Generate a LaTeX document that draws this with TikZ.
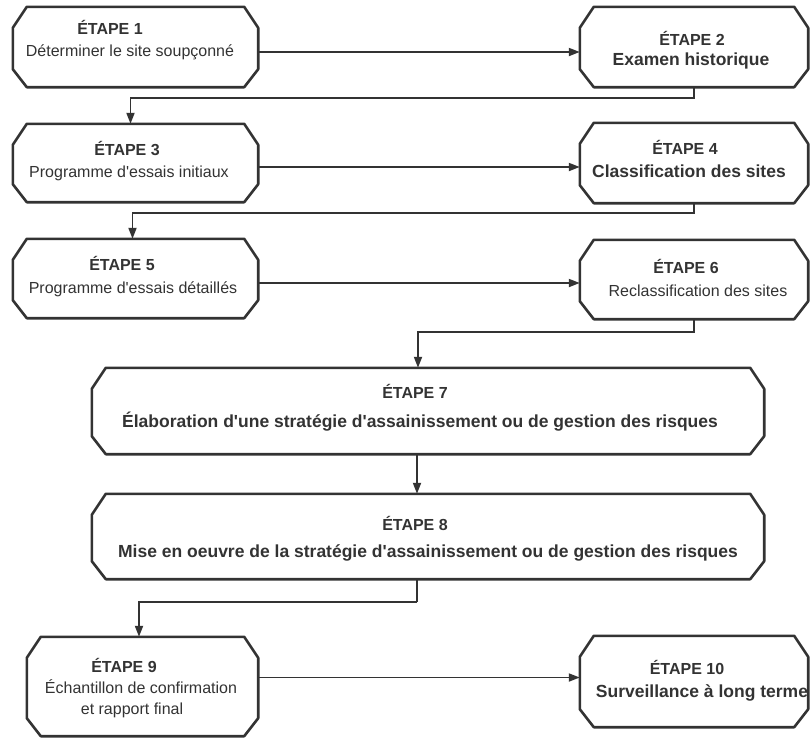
\documentclass[tikz,border=0pt]{standalone}
\usepackage{fontspec}
\setmainfont{Liberation Sans}[Ligatures=TeXOff]
\usetikzlibrary{arrows.meta,calc}
\definecolor{ink}{HTML}{333333}
\begin{document}
\begin{tikzpicture}[x=1pt,y=-1pt,
  boxnode/.style={draw=none, inner sep=0pt},
  outline/.style={draw=ink, line width=2.6pt, line join=round},
  arr/.style={draw=ink, line width=1.8pt, -{Triangle[length=11pt,width=8pt]}},
  hdr/.style={anchor=base, inner sep=0pt, text=ink, font=\bfseries\fontsize{16}{18}\selectfont},
  reg/.style={anchor=base, inner sep=0pt, text=ink, font=\fontsize{16}{18}\selectfont},
  bld/.style={anchor=base, inner sep=0pt, text=ink, font=\bfseries\fontsize{17.5}{20}\selectfont}]
\fill[white] (0,0) rectangle (811,737);
\useasboundingbox (0,0) rectangle (811,737);

% boxes
\node[boxnode, minimum width=245pt, minimum height=80pt] (b1) at (135.5,47) {};
\node[boxnode, minimum width=228pt, minimum height=80pt] (b2) at (694,47) {};
\node[boxnode, minimum width=245pt, minimum height=78pt] (b3) at (135.5,163) {};
\node[boxnode, minimum width=228pt, minimum height=80pt] (b4) at (694,163) {};
\node[boxnode, minimum width=245pt, minimum height=79pt] (b5) at (135.5,278.5) {};
\node[boxnode, minimum width=228pt, minimum height=79pt] (b6) at (694,279.5) {};
\node[boxnode, minimum width=672pt, minimum height=86pt] (b7) at (428,411) {};
\node[boxnode, minimum width=672pt, minimum height=85pt] (b8) at (428,536.5) {};
\node[boxnode, minimum width=231pt, minimum height=99pt] (b9) at (142.5,686.5) {};
\node[boxnode, minimum width=228pt, minimum height=91pt] (b10) at (694,681.5) {};

\foreach \n in {b1,b2,b3,b4,b5,b6,b7,b8,b9,b10}{
  \draw[outline] ([xshift=14pt]\n.north west) -- ([xshift=-14pt]\n.north east)
    -- ([yshift=-21pt]\n.north east) -- ([yshift=18pt]\n.south east)
    -- ([xshift=-14pt]\n.south east) -- ([xshift=14pt]\n.south west)
    -- ([yshift=18pt]\n.south west) -- ([yshift=-21pt]\n.north west) -- cycle;
}

% texts
\node[hdr] (t1h) at (110,34.5) {ÉTAPE 1};
\node[reg] (t1b) at (130,56.5) {Déterminer le site soupçonné};
\node[hdr] (t2h) at (692,45.5) {ÉTAPE 2};
\node[bld] (t2b) at (691,65) {Examen historique};
\node[hdr] (t3h) at (127,155.5) {ÉTAPE 3};
\node[reg] (t3b) at (129,177.5) {Programme d'essais initiaux};
\node[hdr] (t4h) at (685,154.5) {ÉTAPE 4};
\node[bld] (t4b) at (689,177) {Classification des sites};
\node[hdr] (t5h) at (122,270.5) {ÉTAPE 5};
\node[reg] (t5b) at (133,293.5) {Programme d'essais détaillés};
\node[hdr] (t6h) at (686,273.5) {ÉTAPE 6};
\node[reg] (t6b) at (698,296.5) {Reclassification des sites};
\node[hdr] (t7h) at (415,398.5) {ÉTAPE 7};
\node[bld] (t7b) at (420,427) {Élaboration d'une stratégie d'assainissement ou de gestion des risques};
\node[hdr] (t8h) at (415,530.5) {ÉTAPE 8};
\node[bld] (t8b) at (428,557) {Mise en oeuvre de la stratégie d'assainissement ou de gestion des risques};
\node[hdr] (t9h) at (124,672.5) {ÉTAPE 9};
\node[reg] (t9b) at (141,693.5) {Échantillon de confirmation};
\node[reg] (t9c) at (132,714.5) {et rapport final};
\node[hdr] (t10h) at (687,674.5) {ÉTAPE 10};
\node[bld] (t10b) at (702,697) {Surveillance à long terme};

% connectors
\draw[arr] ([yshift=-5pt]b1.east) -- ([yshift=-5pt]b1.east -| b2.west);
\draw[arr] (b2.south) -- ++(0,11) -| ([xshift=-5pt]b3.north);
\draw[arr] ([yshift=-4pt]b3.east) -- ([yshift=-4pt]b3.east -| b4.west);
\draw[arr] (b4.south) -- ++(0,10) -| ([xshift=-3pt]b5.north);
\draw[arr] ([yshift=-4.5pt]b5.east) -- ([yshift=-4.5pt]b5.east -| b6.west);
\draw[arr] (b6.south) -- ++(0,13) -| ([xshift=-10pt]b7.north);
\draw[arr] ([xshift=-11pt]b7.south) -- ([xshift=-11pt]b8.north);
\draw[line width=1.8pt, draw=ink] ([xshift=-11pt]b8.south) -- ++(0,23) coordinate (k89);
\draw[arr] (k89) -| ([xshift=-3.5pt]b9.north);
\draw[arr] ([yshift=9pt]b9.east) -- ([yshift=9pt]b9.east -| b10.west);
\end{tikzpicture}
\end{document}
